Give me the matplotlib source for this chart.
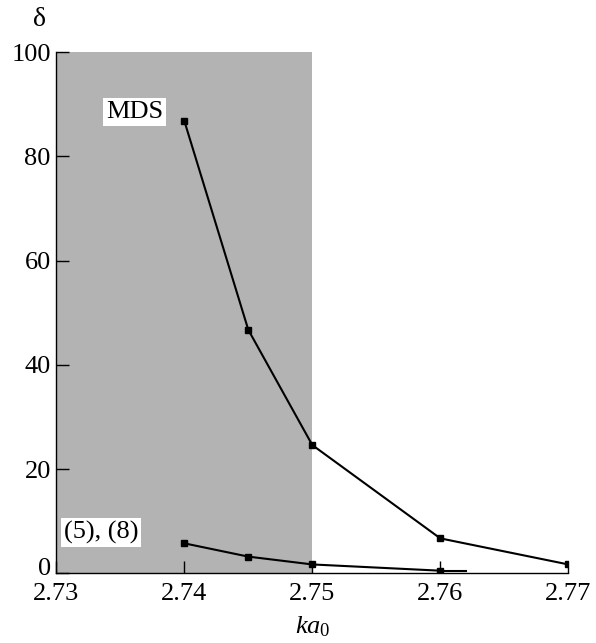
import numpy as np
import matplotlib.pyplot as plt
import matplotlib.transforms as mtransforms

plt.rcParams['font.family'] = ['Liberation Serif', 'DejaVu Serif']
plt.rcParams['mathtext.fontset'] = 'custom'
plt.rcParams['mathtext.rm'] = 'Liberation Serif'
plt.rcParams['mathtext.it'] = 'Liberation Serif:italic'

# data
ka_mds = [2.74, 2.745, 2.75, 2.76, 2.77]
delta_mds = [86.8, 46.7, 24.6, 6.7, 1.7]
ka_eq = [2.74, 2.745, 2.75, 2.76]
delta_eq = [5.75, 3.2, 1.7, 0.5]
eq_tail = [2.76, 2.762]  # line goes on a bit past the last marker
shade = [2.73, 2.75]

fig = plt.figure(figsize=(5.96, 6.43), dpi=100)
ax = fig.add_axes([0.0945, 0.1084, 0.859, 0.8107])

ax.axvspan(shade[0], shade[1], color='#b3b3b3', lw=0, zorder=0)

ax.plot(ka_mds, delta_mds, color='black', lw=1.5, marker='s', ms=5, zorder=3)
ax.plot(ka_eq, delta_eq, color='black', lw=1.5, marker='s', ms=5, zorder=3)
ax.plot(eq_tail, [delta_eq[-1]] * 2, color='black', lw=1.5, zorder=3)

ax.set_xlim(2.73, 2.77)
ax.set_ylim(0, 100)
ax.set_xticks([2.73, 2.74, 2.75, 2.76, 2.77])
ax.set_xticklabels(['2.73', '2.74', '2.75', '2.76', '2.77'])
ax.set_yticks([0, 20, 40, 60, 80, 100])
ax.tick_params(direction='in', length=9, width=1, labelsize=19)
ax.tick_params(axis='x', pad=7)
ax.tick_params(axis='y', pad=4)
ax.spines['top'].set_visible(False)
ax.spines['right'].set_visible(False)
for s in ('left', 'bottom'):
    ax.spines[s].set_linewidth(1)

# lift the "0" a little so it clears "2.73", as in the original
lab0 = ax.get_yticklabels()[0]
lab0.set_transform(lab0.get_transform() + mtransforms.ScaledTranslation(0, 5 / 72, fig.dpi_scale_trans))

ax.set_xlabel(r'$ka_0$', fontsize=19, labelpad=7)
fig.text(40 / 596, 1 - 19 / 643, 'δ', fontsize=20, ha='center', va='center')

box = dict(facecolor='white', edgecolor='none', pad=2)
ax.text(2.7361, 88.5, 'MDS', fontsize=19, ha='center', va='center', bbox=box)
ax.text(2.7335, 7.9, '(5), (8)', fontsize=19, ha='center', va='center', bbox=box)

fig.savefig('out.png', dpi=100)
